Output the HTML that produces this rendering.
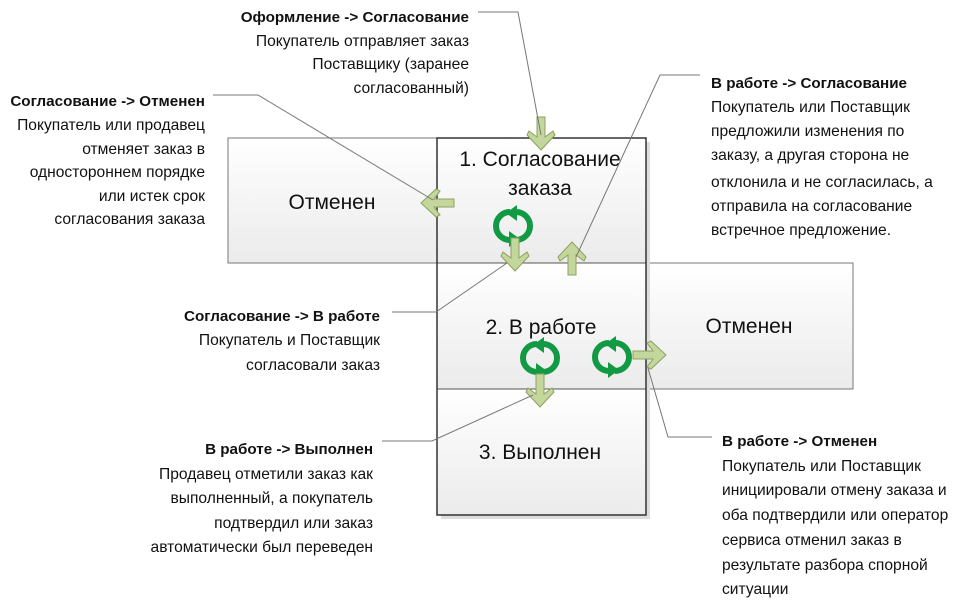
<!DOCTYPE html>
<html><head><meta charset="utf-8"><style>
body{margin:0;background:#fff;width:972px;height:609px;overflow:hidden}
svg{display:block}
text{font-family:"Liberation Sans",sans-serif;fill:#111}
.t{font-size:15.6px}
.b{font-weight:bold;font-size:15.2px}
.big{font-size:21px}
</style></head><body>
<svg width="972" height="609" viewBox="0 0 972 609">
<defs>
<linearGradient id="g" x1="0" y1="0" x2="0" y2="1"><stop offset="0" stop-color="#ffffff"/><stop offset="1" stop-color="#ebebeb"/></linearGradient>
<g id="ad"><path d="M-4,0 H4 V20 L12,14 L14,18 L0,33 L-14,18 L-12,14 L-4,20 Z" fill="#c3d69b" stroke="#8fa060" stroke-width="1"/></g>
<g id="cyc">
<path d="M-3,-14 A14,14 0 0 0 -3,14" fill="none" stroke="#119944" stroke-width="6"/>
<path d="M-4,21 L7,13 L-4,5 Z" fill="#119944"/>
<path d="M3,14 A14,14 0 0 0 3,-14" fill="none" stroke="#119944" stroke-width="6"/>
<path d="M4,-21 L-7,-13 L4,-5 Z" fill="#119944"/>
</g>
</defs>
<rect x="228" y="138" width="209" height="125" fill="url(#g)" stroke="#777" stroke-width="1"/>
<rect x="646" y="263" width="207" height="126" fill="url(#g)" stroke="#777" stroke-width="1"/>
<rect x="441" y="142" width="209" height="377" fill="#ddd"/>
<rect x="437" y="138" width="209" height="125" fill="url(#g)"/>
<rect x="437" y="263" width="209" height="126" fill="url(#g)"/>
<rect x="437" y="389" width="209" height="126" fill="url(#g)"/>
<line x1="437" y1="263" x2="646" y2="263" stroke="#555"/>
<line x1="437" y1="389" x2="646" y2="389" stroke="#555"/>
<rect x="437" y="138" width="209" height="377" fill="none" stroke="#333" stroke-width="1.5"/>
<text class="big" x="332" y="209" text-anchor="middle">Отменен</text>
<text class="big" x="749" y="333" text-anchor="middle">Отменен</text>
<text class="big" x="540" y="166" text-anchor="middle">1. Согласование</text>
<text class="big" x="540" y="195" text-anchor="middle">заказа</text>
<text class="big" x="541" y="334" text-anchor="middle">2. В работе</text>
<text class="big" x="540" y="459" text-anchor="middle">3. Выполнен</text>
<use href="#cyc" x="513" y="226"/>
<use href="#cyc" x="540" y="358"/>
<use href="#cyc" x="612" y="357"/>
<use href="#ad" transform="translate(541,117)"/>
<use href="#ad" transform="translate(515,238)"/>
<use href="#ad" transform="translate(572,275) rotate(180)"/>
<use href="#ad" transform="translate(540,374)"/>
<use href="#ad" transform="translate(454,203) rotate(90)"/>
<use href="#ad" transform="translate(633,355) rotate(-90)"/>
<g fill="none" stroke="#777" stroke-width="1">
<polyline points="478,12 518,12 541,135"/>
<polyline points="213,95 258,95 433,200"/>
<polyline points="700,75 660,75 576,257"/>
<polyline points="392,312 436,312 507,263"/>
<polyline points="382,441 432,441 533,395"/>
<polyline points="712,437 668,437 648,368"/>
</g>
<g class="t" text-anchor="end">
<text class="b" x="469" y="22">Оформление -&gt; Согласование</text>
<text x="469" y="46">Покупатель отправляет заказ</text>
<text x="469" y="69">Поставщику (заранее</text>
<text x="469" y="93">согласованный)</text>
<text class="b" x="205" y="106">Согласование -&gt; Отменен</text>
<text x="205" y="130">Покупатель или продавец</text>
<text x="205" y="154">отменяет заказ в</text>
<text x="205" y="177">одностороннем порядке</text>
<text x="205" y="201">или истек срок</text>
<text x="205" y="224">согласования заказа</text>
<text class="b" x="380" y="321">Согласование -&gt; В работе</text>
<text x="380" y="345">Покупатель и Поставщик</text>
<text x="380" y="370">согласовали заказ</text>
<text class="b" x="373" y="454">В работе -&gt; Выполнен</text>
<text x="373" y="479">Продавец отметили заказ как</text>
<text x="373" y="503">выполненный, а покупатель</text>
<text x="373" y="528">подтвердил или заказ</text>
<text x="373" y="552">автоматически был переведен</text>
</g>
<g class="t">
<text class="b" x="711" y="88">В работе -&gt; Согласование</text>
<text x="711" y="112">Покупатель или Поставщик</text>
<text x="711" y="136">предложили изменения по</text>
<text x="711" y="160">заказу, а другая сторона не</text>
<text x="711" y="187">отклонила и не согласилась, а</text>
<text x="711" y="211">отправила на согласование</text>
<text x="711" y="235">встречное предложение.</text>
<text class="b" x="722" y="446">В работе -&gt; Отменен</text>
<text x="722" y="471">Покупатель или Поставщик</text>
<text x="722" y="495">инициировали отмену заказа и</text>
<text x="722" y="520">оба подтвердили или оператор</text>
<text x="722" y="545">сервиса отменил заказ в</text>
<text x="722" y="570">результате разбора спорной</text>
<text x="722" y="594">ситуации</text>
</g>
</svg>
</body></html>
